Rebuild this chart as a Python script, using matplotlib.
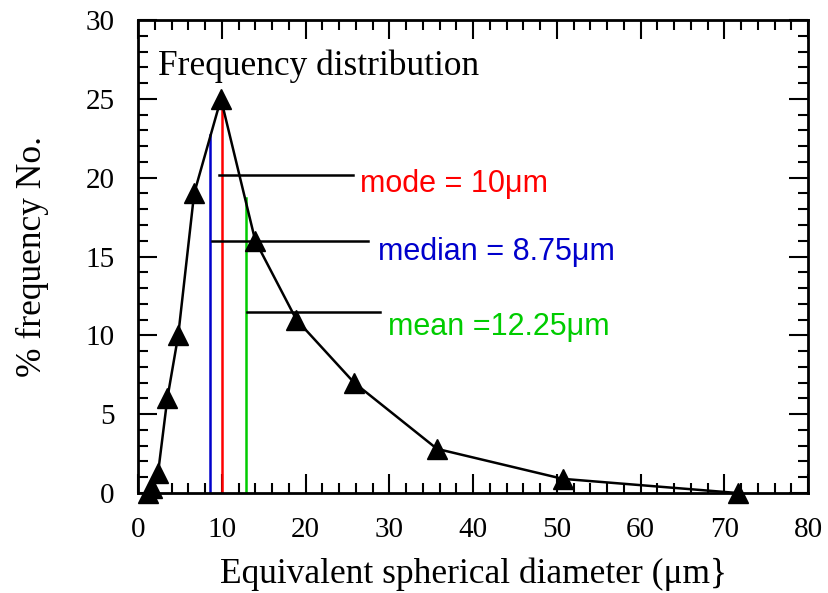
import matplotlib as mpl
mpl.use('agg')
import matplotlib.pyplot as plt
from matplotlib.ticker import MultipleLocator

diameter = [1.2, 1.7, 2.4, 3.5, 4.8, 6.7, 9.9, 14.0, 18.9, 25.8, 35.7, 50.7, 71.6]
frequency = [0.0, 0.3, 1.3, 6.0, 10.0, 19.0, 25.0, 16.0, 11.0, 7.0, 2.8, 0.9, 0.0]

stat_names = ['mode = 10μm', 'median = 8.75μm', 'mean =12.25μm']
stat_x = [10.0, 8.6, 12.9]
stat_top = [24.6, 22.7, 18.7]
stat_colors = ['#ff0000', '#0000cc', '#00cc00']
leader_y = [20.2, 16.0, 11.5]
leader_x0 = [9.7, 8.8, 13.0]
leader_x1 = [25.7, 27.5, 28.9]
label_x = [26.5, 28.7, 29.9]
label_y = [19.1, 14.8, 10.0]

serif = ['Liberation Serif', 'DejaVu Serif']
sans = ['Liberation Sans', 'DejaVu Sans']

fig = plt.figure(figsize=(8.29, 5.93), dpi=100)
ax = fig.add_axes([0.1665, 0.1686, 0.9747 - 0.1665, 0.9663 - 0.1686])

for x, top, c in zip(stat_x, stat_top, stat_colors):
    ax.plot([x, x], [0, top], color=c, lw=1.8, zorder=2)
for y, x0, x1 in zip(leader_y, leader_x0, leader_x1):
    ax.plot([x0, x1], [y, y], color='black', lw=1.8, zorder=2)
for name, x, y, c in zip(stat_names, label_x, label_y, stat_colors):
    ax.text(x, y, name, color=c, fontsize=22, family=sans, va='baseline', ha='left')

ax.plot(diameter, frequency, color='black', lw=1.8, marker='^', markersize=14,
        markerfacecolor='black', clip_on=False, zorder=3)

ax.text(2.4, 26.5, 'Frequency distribution', fontsize=25.5, family=serif, va='baseline')

ax.set_xlim(0, 80)
ax.set_ylim(0, 30)
ax.xaxis.set_major_locator(MultipleLocator(10))
ax.xaxis.set_minor_locator(MultipleLocator(2))
ax.yaxis.set_major_locator(MultipleLocator(5))
ax.yaxis.set_minor_locator(MultipleLocator(1))
ax.tick_params(which='both', direction='in', top=True, right=True, width=1.5)
ax.tick_params(which='major', length=14, labelsize=21, pad=17)
ax.tick_params(which='minor', length=7)
for lab in ax.get_xticklabels() + ax.get_yticklabels():
    lab.set_family(serif)
for sp in ax.spines.values():
    sp.set_linewidth(2)

ax.set_xlabel('Equivalent spherical diameter (μm}', fontsize=25.5, family=serif, labelpad=11)
ax.set_ylabel('% frequency No.', fontsize=25.5, family=serif, labelpad=26)

fig.savefig('out.png', dpi=100)
